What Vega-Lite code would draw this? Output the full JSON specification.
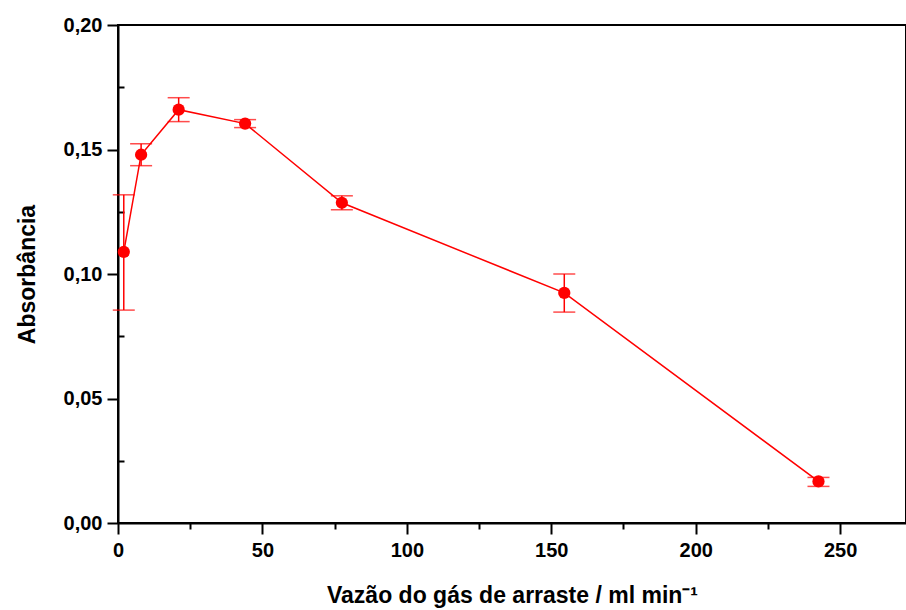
{
  "$schema": "https://vega.github.io/schema/vega-lite/v6.json",
  "autosize": "none",
  "width": 788,
  "height": 498,
  "padding": {"left": 118, "top": 25, "right": 0, "bottom": 87},
  "config": {
    "view": {"stroke": "black", "strokeWidth": 2},
    "font": "Liberation Sans",
    "axis": {
      "labelFont": "Liberation Sans",
      "titleFont": "Liberation Sans",
      "labelFontWeight": "bold",
      "titleFontWeight": "bold",
      "labelFontSize": 20,
      "titleFontSize": 23,
      "labelColor": "black",
      "titleColor": "black",
      "domainColor": "black",
      "tickColor": "black",
      "domainWidth": 2,
      "tickWidth": 2,
      "labelFlush": false,
      "grid": false
    }
  },
  "data": {
    "values": [
      {"flow": 2, "abs": 0.1089, "lo": 0.0855, "hi": 0.1318},
      {"flow": 8, "abs": 0.1479, "lo": 0.1435, "hi": 0.1523},
      {"flow": 21, "abs": 0.166, "lo": 0.1612, "hi": 0.1708},
      {"flow": 44, "abs": 0.1604, "lo": 0.1588, "hi": 0.162},
      {"flow": 77.5, "abs": 0.1286, "lo": 0.1258, "hi": 0.1314},
      {"flow": 154.5, "abs": 0.0924, "lo": 0.0847, "hi": 0.1},
      {"flow": 242.5, "abs": 0.0167, "lo": 0.0147, "hi": 0.0183}
    ]
  },
  "resolve": {"axis": {"x": "independent", "y": "independent"}},
  "layer": [
    {
      "mark": {"type": "rule", "color": "#ff0000", "strokeWidth": 1.5},
      "encoding": {
        "x": {"field": "flow", "type": "quantitative",
              "scale": {"domain": [0, 272.8], "nice": false, "zero": false},
              "axis": {"orient": "bottom", "values": [0, 50, 100, 150, 200, 250], "tickSize": 11, "labelPadding": 6,
                       "title": "Vazão do gás de arraste / ml min⁻¹", "titlePadding": 24}},
        "y": {"field": "lo", "type": "quantitative",
              "scale": {"domain": [0, 0.2], "nice": false},
              "axis": {"orient": "left", "values": [0, 0.05, 0.1, 0.15, 0.2], "tickSize": 11, "labelPadding": 5,
                       "labelExpr": "replace(format(datum.value, '.2f'), '.', ',')",
                       "title": "Absorbância", "titlePadding": 24}},
        "y2": {"field": "hi"}
      }
    },
    {
      "mark": {"type": "tick", "orient": "horizontal", "color": "#ff0000", "size": 22, "thickness": 1.5},
      "encoding": {
        "x": {"field": "flow", "type": "quantitative",
              "axis": {"orient": "bottom", "values": [25, 75, 125, 175, 225, 275], "tickSize": 6, "labels": false, "domain": false, "title": null}},
        "y": {"field": "lo", "type": "quantitative",
              "axis": {"orient": "left", "values": [0.025, 0.075, 0.125, 0.175], "tickSize": -6, "labels": false, "domain": false, "title": null}}
      }
    },
    {
      "mark": {"type": "tick", "orient": "horizontal", "color": "#ff0000", "size": 22, "thickness": 1.5},
      "encoding": {
        "x": {"field": "flow", "type": "quantitative", "axis": null},
        "y": {"field": "hi", "type": "quantitative", "axis": null}
      }
    },
    {
      "mark": {"type": "line", "color": "#ff0000", "strokeWidth": 1.5},
      "encoding": {
        "x": {"field": "flow", "type": "quantitative", "axis": null},
        "y": {"field": "abs", "type": "quantitative", "axis": null}
      }
    },
    {
      "mark": {"type": "point", "filled": true, "shape": "circle", "color": "#ff0000", "opacity": 1, "size": 150},
      "encoding": {
        "x": {"field": "flow", "type": "quantitative", "axis": null},
        "y": {"field": "abs", "type": "quantitative", "axis": null}
      }
    }
  ]
}
